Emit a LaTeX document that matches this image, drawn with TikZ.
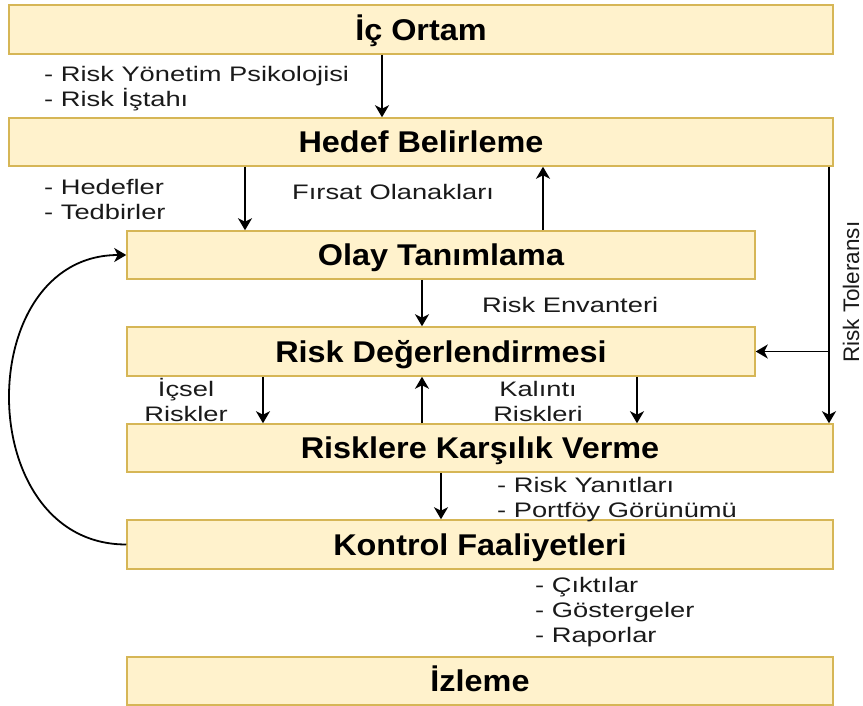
\documentclass[tikz,border=0pt]{standalone}
\usepackage{fontspec}
\setmainfont{Liberation Sans}
\newfontfamily\titlefont{Liberation Sans}[FakeStretch=1.08]
\newfontfamily\notefont{Liberation Sans}[FakeStretch=1.3]
\usetikzlibrary{arrows.meta}
\definecolor{boxfill}{HTML}{FFF2CC}
\definecolor{boxline}{HTML}{D6B656}
\definecolor{notetext}{HTML}{1A1A1A}

\begin{document}
\begin{tikzpicture}[x=1pt,y=-1pt,
  stage/.style={draw=boxline, fill=boxfill, line width=1.5pt, inner sep=0pt,
    minimum height=48pt, text height=21.5pt, text depth=0pt,
    font=\titlefont\bfseries\fontsize{30}{36}\selectfont},
  note/.style={anchor=base west, inner sep=0pt, text=notetext,
    font=\notefont\fontsize{21}{25}\selectfont},
  cnote/.style={note, anchor=base},
  flow/.style={-{Stealth[length=12pt,width=14pt,inset=3.5pt]}, line width=1.8pt, black}]

\useasboundingbox (0,0) rectangle (863,706);

% stages of the process
\node[stage, minimum width=824pt, minimum height=49pt] (ic)     at (421,29.5)  {İç Ortam};
\node[stage, minimum width=824pt]                      (hedef)  at (421,142)   {Hedef Belirleme};
\node[stage, minimum width=628pt]                      (olay)   at (441,255)   {Olay Tanımlama};
\node[stage, minimum width=628pt, minimum height=49pt] (degr)   at (441,351.5) {Risk Değerlendirmesi};
\node[stage, minimum width=706pt]                      (karsi)  at (480,448)   {Risklere Karşılık Verme};
\node[stage, minimum width=706pt, minimum height=49pt] (kontrol) at (480,544.5) {Kontrol Faaliyetleri};
\node[stage, minimum width=706pt]                      (izleme) at (480,681)   {İzleme};

% flows between stages
\draw[flow] ([xshift=-39pt]ic.south)     -- ([xshift=-39pt]hedef.north);
\draw[flow] ([xshift=-176pt]hedef.south) -- ([xshift=-196pt]olay.north);
\draw[flow] ([xshift=102pt]olay.north)   -- ([xshift=122pt]hedef.south);
\draw[flow] ([xshift=-19pt]olay.south)   -- ([xshift=-19pt]degr.north);
\draw[flow] ([xshift=-178pt]degr.south)  -- ([xshift=-217pt]karsi.north);
\draw[flow] ([xshift=-58pt]karsi.north)  -- ([xshift=-19pt]degr.south);
\draw[flow] ([xshift=196pt]degr.south)   -- ([xshift=157pt]karsi.north);
\draw[flow] ([xshift=-39pt]karsi.south)  -- ([xshift=-39pt]kontrol.north);

% risk tolerance line with its branch
\draw[flow] ([xshift=408pt]hedef.south) -- ([xshift=349pt]karsi.north);
\coordinate (tol) at ([xshift=408pt]hedef.south |- degr.east);
\draw[flow] (tol) -- (degr.east);

% feedback loop from control back to event identification
\draw[flow] (kontrol.west) .. controls +(-155,0) and +(-155,0) .. (olay.west);

% annotations
\node[note] (n1a) at (44,82)  {- Risk Yönetim Psikolojisi};
\node[note] (n1b) at (44,107) {- Risk İştahı};
\node[note] (n2a) at (44,195) {- Hedefler};
\node[note] (n2b) at (44,220) {- Tedbirler};
\node[note] (n3)  at (292,200) {Fırsat Olanakları};
\node[note] (n4)  at (482,312) {Risk Envanteri};
\node[cnote] (n5a) at (186,396) {İçsel};
\node[cnote] (n5b) at (186,421) {Riskler};
\node[cnote] (n6a) at (538,396) {Kalıntı};
\node[cnote] (n6b) at (538,421) {Riskleri};
\node[note, rotate=90, font=\fontsize{22.5}{25}\selectfont] (n7) at (859,363) {Risk Toleransı};
\node[note] (n8a) at (497,492) {- Risk Yanıtları};
\node[note] (n8b) at (497,517) {- Portföy Görünümü};
\node[note] (n9a) at (535,592) {- Çıktılar};
\node[note] (n9b) at (535,617) {- Göstergeler};
\node[note] (n9c) at (535,642) {- Raporlar};
\end{tikzpicture}
\end{document}
